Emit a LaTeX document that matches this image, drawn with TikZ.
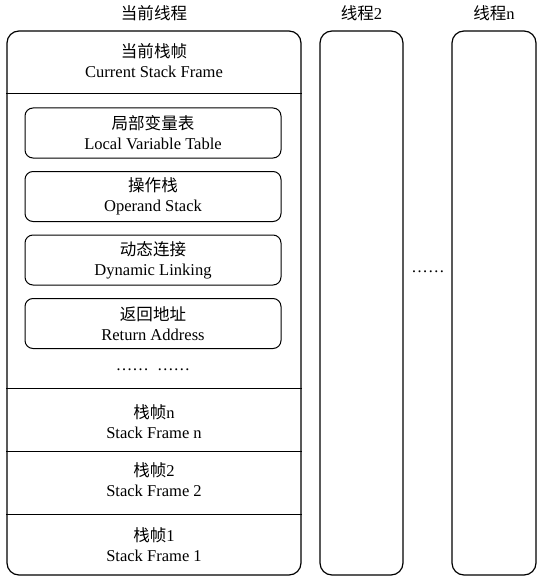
\documentclass[tikz,border=0pt]{standalone}
\usepackage{fontspec}
\setmainfont{Liberation Serif}
\newfontfamily\cjk{Noto Sans CJK SC}
\usetikzlibrary{positioning}
\tikzset{>=latex}
\tikzstyle{thread} = [rectangle, draw=black, line width=0.9pt, rounded corners=9pt, minimum height=408pt, inner sep=0pt]
\tikzstyle{part} = [rectangle, draw=black, line width=0.75pt, rounded corners=6pt, minimum width=192pt, minimum height=37.5pt, inner sep=0pt, align=center, font=\fontsize{12.4}{15}\selectfont]
\tikzstyle{lbl} = [align=center, font=\fontsize{12.4}{15}\selectfont]
\tikzstyle{sep} = [-, line width=0.75pt, draw=black]

\begin{document}
\begin{tikzpicture}[x=0.75pt, y=-0.75pt]
\useasboundingbox (0,0) rectangle (538,581);
\node [thread, minimum width=220.5pt] (T0) at (154, 303) {};
\node [thread, minimum width=62.25pt] (T2) at (361.5, 303) {};
\node [thread, minimum width=63pt] (Tn) at (494, 303) {};

\node [lbl] (H0) at (154, 13) {\cjk 当前线程};
\node [lbl] (H2) at (361.5, 13) {{\cjk 线程}2};
\node [lbl] (Hn) at (494, 13) {{\cjk 线程}n};

\node [lbl] (cur) at (154, 61) {{\cjk 当前栈帧}\\Current Stack Frame};
\node [part] (lvt) at (153, 133) {{\cjk 局部变量表}\\Local Variable Table};
\node [part] (ops) at (153, 196.5) {{\cjk 操作栈}\\Operand Stack};
\node [part] (dyn) at (153, 260) {{\cjk 动态连接}\\Dynamic Linking};
\node [part] (ret) at (153, 323.5) {{\cjk 返回地址}\\Return Address};
\node [lbl] (more) at (153, 370) {\dots\dots\ \ \dots\dots};
\node [lbl] (sfn) at (154, 422) {{\cjk 栈帧}n\\Stack Frame n};
\node [lbl] (sf2) at (154, 480) {{\cjk 栈帧}2\\Stack Frame 2};
\node [lbl] (sf1) at (154, 545) {{\cjk 栈帧}1\\Stack Frame 1};
\node [lbl] (gap) at (428, 272) {\dots\dots};

\draw [sep] (T0.west |- 0,94) -- (T0.east |- 0,94);
\draw [sep] (T0.west |- 0,388) -- (T0.east |- 0,388);
\draw [sep] (T0.west |- 0,451) -- (T0.east |- 0,451);
\draw [sep] (T0.west |- 0,514) -- (T0.east |- 0,514);
\end{tikzpicture}
\end{document}
